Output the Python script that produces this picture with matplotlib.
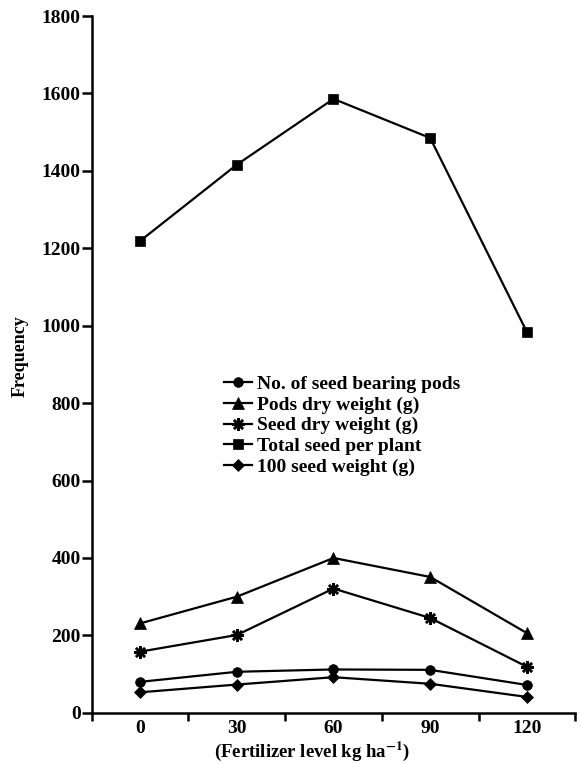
import matplotlib
matplotlib.use("Agg")
import matplotlib.pyplot as plt
import numpy as np

categories = ["0", "30", "60", "90", "120"]
seed_bearing_pods = [80, 106, 112, 111, 72]
pods_dry_weight = [231, 300, 400, 351, 206]
seed_dry_weight = [158, 201, 321, 245, 119]
total_seed_per_plant = [1219, 1416, 1586, 1485, 984]
seed_weight_100 = [53, 73, 92, 75, 41]

series = [
    ("No. of seed bearing pods", seed_bearing_pods, "o", 7),
    ("Pods dry weight (g)", pods_dry_weight, "^", 8),
    ("Seed dry weight (g)", seed_dry_weight, (8, 2, 0), 9),
    ("Total seed per plant", total_seed_per_plant, "s", 7),
    ("100 seed weight (g)", seed_weight_100, "D", 6),
]

plt.rcParams['font.family'] = ['Liberation Serif', 'DejaVu Serif']
plt.rcParams['mathtext.fontset'] = 'stix'
fig = plt.figure(figsize=(5.81, 7.64), dpi=100)
ax = fig.add_axes([0.158, 0.067, 0.832, 0.912])
x = np.arange(len(categories))
for label, vals, mk, ms in series:
    ax.plot(x, vals, color="black", lw=1.6, marker=mk, markersize=ms,
            markeredgewidth=1.8 if mk == (8, 2, 0) else 0.5, label=label)

ax.set_xlim(-0.5, 4.5)
ax.set_ylim(0, 1800)
ax.set_yticks(np.arange(0, 1801, 200))
ax.set_xticks(np.arange(-0.5, 4.6, 1.0))
ax.set_xticklabels([])
ax.set_xticks(x, minor=True)
ax.set_xticklabels(categories, minor=True)
ax.tick_params(axis='x', which='minor', length=0, pad=5, labelsize=14)
ax.tick_params(axis='x', which='major', length=6, width=1.8, direction='out')
ax.tick_params(axis='y', length=7, width=1.8, labelsize=14, pad=1)
for s in ['top', 'right']:
    ax.spines[s].set_visible(False)
for s in ['left', 'bottom']:
    ax.spines[s].set_linewidth(1.8)
for t in ax.get_yticklabels() + ax.get_xticklabels(minor=True):
    t.set_fontweight('bold')

ax.set_ylabel("Frequency", fontsize=13, fontweight='bold')
ax.yaxis.set_label_coords(-0.148, 0.512)
ax.set_xlabel(r"(Fertilizer level kg ha$^{\mathbf{-1}}$)", fontsize=13.5, fontweight='bold')
ax.xaxis.set_label_coords(0.455, -0.055)
ax.xaxis.label.set_va('center')
ax.yaxis.label.set_va('center')

leg = ax.legend(loc='upper left', bbox_to_anchor=(0.258, 0.495), frameon=False,
                fontsize=14, handlelength=1.4, handletextpad=0.3,
                labelspacing=0.15, borderaxespad=0)
for t in leg.get_texts():
    t.set_fontweight('bold')

fig.savefig("out.png", dpi=100)
